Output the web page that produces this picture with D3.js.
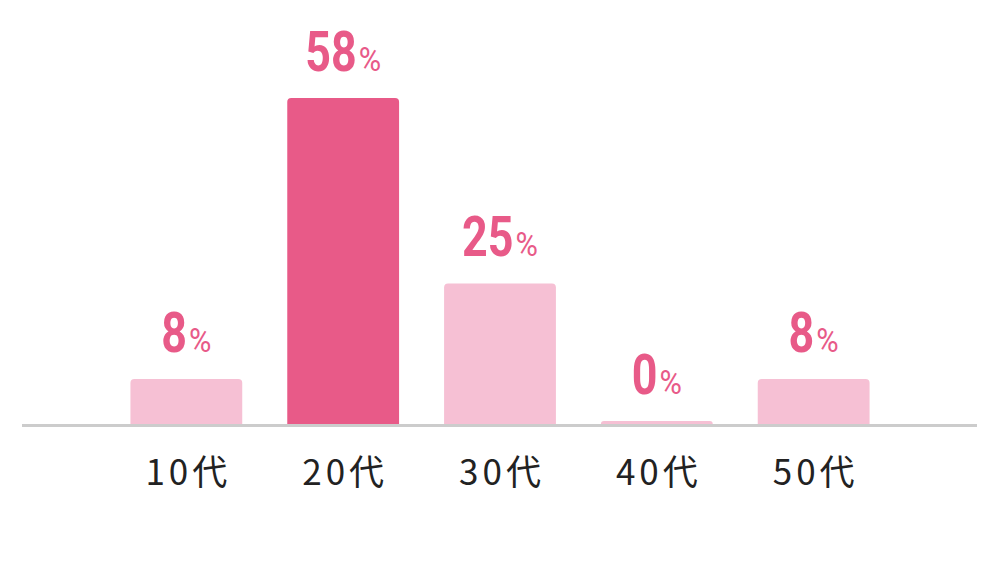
<!DOCTYPE html>
<html><head><meta charset="utf-8">
<script src="https://cdn.jsdelivr.net/npm/d3@7"></script>
<style>html,body{margin:0;padding:0;background:#fff;}svg{display:block;}</style>
</head><body>
<svg id="chart" width="1000" height="562"></svg>
<script>
const categories = ["10代", "20代", "30代", "40代", "50代"];
const values = [8, 58, 25, 0, 8];
const highlight = "20代";

const svg = d3.select("#chart");
const baseY = 424;
const x = d3.scaleBand().domain(categories).range([108, 892]).paddingInner(0.287).paddingOuter(0.143);
const y = d3.scaleLinear().domain([0, 58]).range([baseY, 98]);
const dark = "#e85a88", light = "#f6c0d4";
const r = 4;

function barTop(i) {
  const t = y(values[i]);
  return baseY - t < 3 ? baseY - 3 : t;
}
function barPath(d, i) {
  const x0 = x(d), w = x.bandwidth();
  const top = barTop(i);
  const rr = Math.min(r, baseY - top);
  return `M${x0},${baseY}V${top + rr}Q${x0},${top} ${x0 + rr},${top}H${x0 + w - rr}Q${x0 + w},${top} ${x0 + w},${top + rr}V${baseY}Z`;
}

svg.selectAll("path.bar").data(categories).enter().append("path")
  .attr("class", "bar")
  .attr("d", barPath)
  .attr("fill", d => d === highlight ? dark : light);

// baseline
svg.append("line").attr("x1", 22).attr("x2", 977).attr("y1", baseY + 1.5).attr("y2", baseY + 1.5)
  .attr("stroke", "#cccccc").attr("stroke-width", 3);

// value labels
const sx = 0.8, gap = 2;
categories.forEach((d, i) => {
  const cx = x(d) + x.bandwidth() / 2;
  const by = barTop(i) - 27;
  const g = svg.append("g");
  const num = g.append("text")
    .attr("font-family", "Roboto, sans-serif")
    .attr("font-weight", "bold").attr("font-size", 56)
    .attr("fill", dark)
    .text(values[i]);
  const pct = g.append("text")
    .attr("font-family", "Roboto, sans-serif")
    .attr("font-size", 34)
    .attr("fill", dark)
    .text("%");
  const nw = num.node().getComputedTextLength() * sx;
  const pw = pct.node().getComputedTextLength() * 0.9;
  const left = cx - (nw + gap + pw) / 2;
  num.attr("transform", `translate(${left},${by}) scale(${sx},1)`);
  pct.attr("transform", `translate(${left + nw + gap},${by}) scale(0.9,1)`);
});

// category labels
const ls = 4;
svg.selectAll("text.cat").data(categories).enter().append("text")
  .attr("class", "cat")
  .attr("x", d => x(d) + x.bandwidth() / 2 + ls / 2)
  .attr("y", 485)
  .attr("text-anchor", "middle")
  .attr("font-family", "'Noto Sans CJK JP', sans-serif")
  .attr("font-size", 35)
  .attr("letter-spacing", ls)
  .attr("fill", "#222")
  .text(d => d);
</script>
</body></html>
